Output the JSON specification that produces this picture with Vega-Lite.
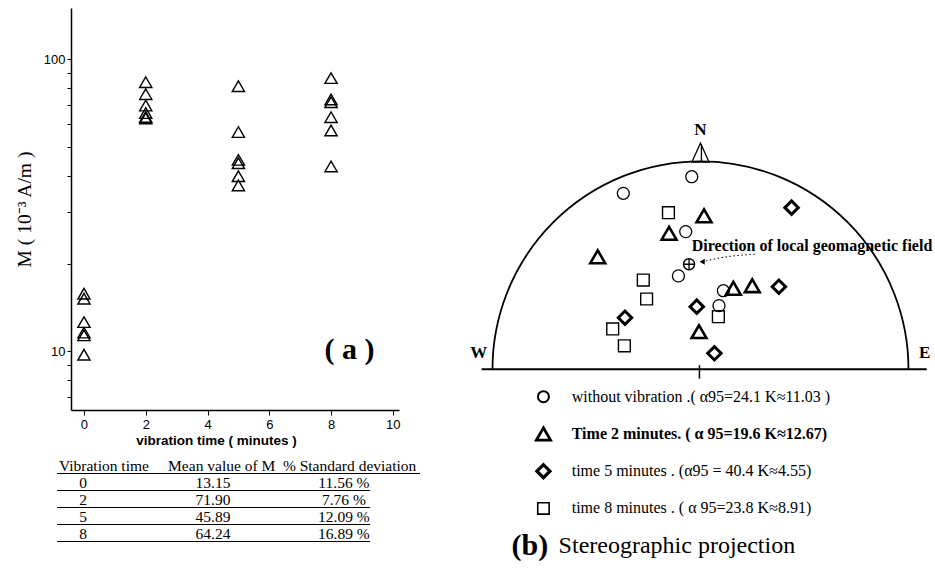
{
  "$schema": "https://vega.github.io/schema/vega-lite/v6.json",
  "background": "white",
  "padding": {"left": 14, "top": 8, "right": 0, "bottom": 0},
  "bounds": "full",
  "spacing": 49,
  "config": {
    "view": {"stroke": null},
    "axis": {"domainColor": "black", "tickColor": "black", "labelColor": "black", "titleColor": "black", "grid": false, "labelFlush": false},
    "text": {"font": "Liberation Serif", "color": "black"}
  },
  "datasets": {
    "stereo": [
      {"group": "without", "u": -0.042, "v": 0.926},
      {"group": "without", "u": -0.371, "v": 0.846},
      {"group": "without", "u": -0.071, "v": 0.662},
      {"group": "without", "u": -0.106, "v": 0.449},
      {"group": "without", "u": 0.110, "v": 0.378},
      {"group": "without", "u": 0.089, "v": 0.306},
      {"group": "t2", "u": 0.017, "v": 0.738},
      {"group": "t2", "u": -0.151, "v": 0.654},
      {"group": "t2", "u": -0.494, "v": 0.541},
      {"group": "t2", "u": 0.158, "v": 0.389},
      {"group": "t2", "u": 0.249, "v": 0.402},
      {"group": "t2", "u": -0.007, "v": 0.181},
      {"group": "t5", "u": 0.438, "v": 0.777},
      {"group": "t5", "u": 0.377, "v": 0.397},
      {"group": "t5", "u": -0.018, "v": 0.301},
      {"group": "t5", "u": -0.363, "v": 0.248},
      {"group": "t5", "u": 0.067, "v": 0.077},
      {"group": "t8", "u": -0.154, "v": 0.753},
      {"group": "t8", "u": -0.275, "v": 0.429},
      {"group": "t8", "u": -0.259, "v": 0.338},
      {"group": "t8", "u": 0.086, "v": 0.253},
      {"group": "t8", "u": -0.422, "v": 0.194},
      {"group": "t8", "u": -0.366, "v": 0.113}
    ],
    "legend": [
      {"group": "without", "label": "without vibration .( α95=24.1  K≈11.03 )"},
      {"group": "t2", "label": "Time 2 minutes. ( α 95=19.6  K≈12.67)"},
      {"group": "t5", "label": "time 5 minutes . (α95 = 40.4  K≈4.55)"},
      {"group": "t8", "label": "time 8 minutes . ( α 95=23.8  K≈8.91)"}
    ]
  },
  "hconcat": [
    {
      "bounds": "flush",
      "spacing": 56,
      "vconcat": [
        {
          "width": 328,
          "height": 402,
          "layer": [
            {
              "data": {"values": [
                {"time": 0, "M": 15.76}, {"time": 0, "M": 15.15}, {"time": 0, "M": 12.6}, {"time": 0, "M": 11.6}, {"time": 0, "M": 11.35}, {"time": 0, "M": 9.74},
                {"time": 2, "M": 83.6}, {"time": 2, "M": 76.0}, {"time": 2, "M": 69.5}, {"time": 2, "M": 65.5}, {"time": 2, "M": 63.5}, {"time": 2, "M": 62.8},
                {"time": 5, "M": 81.0}, {"time": 5, "M": 56.4}, {"time": 5, "M": 45.3}, {"time": 5, "M": 44.1}, {"time": 5, "M": 39.8}, {"time": 5, "M": 37.0},
                {"time": 8, "M": 86.3}, {"time": 8, "M": 72.9}, {"time": 8, "M": 71.4}, {"time": 8, "M": 63.4}, {"time": 8, "M": 57.1}, {"time": 8, "M": 43.0}
              ]},
              "mark": {"type": "point", "shape": "triangle-up", "filled": false, "stroke": "black", "strokeWidth": 1.4, "size": 150, "opacity": 1},
              "encoding": {
                "x": {
                  "field": "time", "type": "quantitative",
                  "scale": {"domain": [-0.42, 10.2], "nice": false, "zero": false},
                  "axis": {
                    "values": [0, 1, 2, 3, 4, 5, 6, 7, 8, 9, 10],
                    "labelExpr": "datum.value % 2 == 0 ? datum.label : ''",
                    "title": "vibration time ( minutes )",
                    "tickSize": 5, "labelPadding": 3, "labelFontSize": 13, "labelFont": "Liberation Sans",
                    "titleFont": "Liberation Sans", "titleFontSize": 13.5, "titleFontWeight": "bold",
                    "titlePadding": 2, "titleX": 145, "titleAlign": "center", "domainWidth": 1.5
                  }
                },
                "y": {
                  "field": "M", "type": "quantitative",
                  "scale": {"type": "log", "domain": [6.3, 150], "nice": false},
                  "axis": {
                    "values": [7, 8, 9, 10, 20, 30, 40, 50, 60, 70, 80, 90, 100],
                    "labelExpr": "datum.value == 10 || datum.value == 100 ? datum.label : ''",
                    "title": "M ( 10⁻³ A/m )",
                    "tickSize": 4, "labelPadding": 2, "labelFontSize": 13, "labelFont": "Liberation Sans",
                    "titleFont": "Liberation Serif", "titleFontSize": 19.5, "titleFontWeight": "normal",
                    "titlePadding": 9, "domainWidth": 1.5
                  }
                }
              }
            },
            {
              "data": {"values": [{}]},
              "mark": {"type": "text", "text": "( a )", "fontSize": 30, "fontWeight": "bold", "baseline": "middle"},
              "encoding": {"x": {"datum": 8.6}, "y": {"datum": 10.1}}
            }
          ]
        },
        {
          "width": 328,
          "height": 68,
          "data": {"values": [
            {"time": "0", "mean": "13.15", "sd": "11.56 %"},
            {"time": "2", "mean": "71.90", "sd": "7.76 %"},
            {"time": "5", "mean": "45.89", "sd": "12.09 %"},
            {"time": "8", "mean": "64.24", "sd": "16.89 %"}
          ]},
          "encoding": {
            "y": {"field": "time", "type": "ordinal", "scale": {"type": "point", "domain": ["hdr", "0", "2", "5", "8"], "padding": 0}, "axis": null}
          },
          "layer": [
            {
              "mark": {"type": "rule", "stroke": "black", "strokeWidth": 1, "yOffset": 7.5},
              "encoding": {
                "x": {"datum": -4.27, "scale": {"domain": [0, 100]}, "axis": null},
                "x2": {"datum": 91.2}
              }
            },
            {
              "data": {"values": [{"time": "hdr"}]},
              "mark": {"type": "rule", "stroke": "black", "strokeWidth": 1, "yOffset": 7.5},
              "encoding": {
                "x": {"datum": -4.27, "scale": {"domain": [0, 100]}, "axis": null},
                "x2": {"datum": 106.4}
              }
            },
            {
              "data": {"values": [{"time": "hdr", "label": "Vibration  time"}]},
              "mark": {"type": "text", "align": "left", "baseline": "middle", "fontSize": 15.5},
              "encoding": {"x": {"datum": -3.66, "scale": {"domain": [0, 100]}, "axis": null}, "text": {"field": "label"}}
            },
            {
              "data": {"values": [{"time": "hdr", "label": "Mean value of M"}]},
              "mark": {"type": "text", "align": "left", "baseline": "middle", "fontSize": 15.5},
              "encoding": {"x": {"datum": 29.6, "scale": {"domain": [0, 100]}, "axis": null}, "text": {"field": "label"}}
            },
            {
              "data": {"values": [{"time": "hdr", "label": "% Standard  deviation"}]},
              "mark": {"type": "text", "align": "left", "baseline": "middle", "fontSize": 15.5},
              "encoding": {"x": {"datum": 64.6, "scale": {"domain": [0, 100]}, "axis": null}, "text": {"field": "label"}}
            },
            {
              "mark": {"type": "text", "align": "center", "baseline": "middle", "fontSize": 15.5},
              "encoding": {"x": {"datum": 3.66, "scale": {"domain": [0, 100]}, "axis": null}, "text": {"field": "time"}}
            },
            {
              "mark": {"type": "text", "align": "center", "baseline": "middle", "fontSize": 15.5},
              "encoding": {"x": {"datum": 43.3, "scale": {"domain": [0, 100]}, "axis": null}, "text": {"field": "mean"}}
            },
            {
              "mark": {"type": "text", "align": "center", "baseline": "middle", "fontSize": 15.5},
              "encoding": {"x": {"datum": 83.2, "scale": {"domain": [0, 100]}, "axis": null}, "text": {"field": "sd"}}
            }
          ]
        }
      ]
    },
    {
      "bounds": "flush",
      "spacing": 26.7,
      "vconcat": [
        {
          "width": 447.2,
          "height": 361.3,
          "layer": [
            {
              "data": {"values": [{"u": 0, "v": 0}]},
              "mark": {"type": "point", "shape": "circle", "size": 173056, "filled": false, "stroke": "black", "strokeWidth": 1.8, "opacity": 1, "clip": true},
              "encoding": {
                "x": {"field": "u", "type": "quantitative", "scale": {"domain": [-1.06, 1.09], "nice": false, "zero": false}, "axis": null},
                "y": {"field": "v", "type": "quantitative", "scale": {"domain": [0, 1.737], "nice": false, "zero": false}, "axis": null}
              }
            },
            {
              "data": {"values": [{}]},
              "mark": {"type": "rule", "stroke": "black", "strokeWidth": 2},
              "encoding": {"x": {"datum": -1.052}, "x2": {"datum": 1.0875}, "y": {"datum": 0}}
            },
            {
              "data": {"values": [{}]},
              "mark": {"type": "rule", "stroke": "black", "strokeWidth": 1.5},
              "encoding": {"x": {"datum": -0.005}, "y": {"datum": 0.02}, "y2": {"datum": -0.045}}
            },
            {
              "data": {"name": "stereo"},
              "transform": [{"filter": "datum.group == 'without'"}],
              "mark": {"type": "point", "shape": "circle", "size": 144, "strokeWidth": 1.3, "filled": false, "stroke": "black", "opacity": 1},
              "encoding": {"x": {"field": "u", "type": "quantitative"}, "y": {"field": "v", "type": "quantitative"}}
            },
            {
              "data": {"name": "stereo"},
              "transform": [{"filter": "datum.group == 't2'"}],
              "mark": {"type": "point", "shape": "triangle-up", "size": 220, "strokeWidth": 2.6, "filled": false, "stroke": "black", "opacity": 1},
              "encoding": {"x": {"field": "u", "type": "quantitative"}, "y": {"field": "v", "type": "quantitative"}}
            },
            {
              "data": {"name": "stereo"},
              "transform": [{"filter": "datum.group == 't5'"}],
              "mark": {"type": "point", "shape": "diamond", "size": 180, "strokeWidth": 3, "filled": false, "stroke": "black", "opacity": 1},
              "encoding": {"x": {"field": "u", "type": "quantitative"}, "y": {"field": "v", "type": "quantitative"}}
            },
            {
              "data": {"name": "stereo"},
              "transform": [{"filter": "datum.group == 't8'"}],
              "mark": {"type": "point", "shape": "square", "size": 140, "strokeWidth": 1.4, "filled": false, "stroke": "black", "opacity": 1},
              "encoding": {"x": {"field": "u", "type": "quantitative"}, "y": {"field": "v", "type": "quantitative"}}
            },
            {
              "data": {"values": [{}]},
              "mark": {"type": "point", "shape": "M0,-1L-0.9,1L0.9,1ZM0.1,-0.9L0.1,1", "size": 361, "filled": false, "stroke": "black", "strokeWidth": 1.3, "opacity": 1},
              "encoding": {"x": {"datum": 0}, "y": {"datum": 1.042}}
            },
            {
              "data": {"values": [{}]},
              "mark": {"type": "point", "shape": "circle", "size": 121, "filled": false, "stroke": "black", "strokeWidth": 1.4, "opacity": 1},
              "encoding": {"x": {"datum": -0.055}, "y": {"datum": 0.505}}
            },
            {
              "data": {"values": [{}]},
              "mark": {"type": "point", "shape": "M-1,0L1,0M0,-1L0,1", "size": 121, "filled": false, "stroke": "black", "strokeWidth": 1.3, "opacity": 1},
              "encoding": {"x": {"datum": -0.055}, "y": {"datum": 0.505}}
            },
            {
              "data": {"values": [{"u": 0.261, "v": 0.553, "o": 1}, {"u": 0.12, "v": 0.54, "o": 2}, {"u": 0.01, "v": 0.517, "o": 3}]},
              "mark": {"type": "line", "stroke": "black", "strokeWidth": 1, "strokeDash": [1.5, 2.5], "interpolate": "monotone"},
              "encoding": {"x": {"field": "u", "type": "quantitative"}, "y": {"field": "v", "type": "quantitative"}, "order": {"field": "o"}}
            },
            {
              "data": {"values": [{}]},
              "mark": {"type": "point", "shape": "triangle-left", "size": 36, "filled": true, "fill": "black", "opacity": 1},
              "encoding": {"x": {"datum": 0.008}, "y": {"datum": 0.517}}
            },
            {
              "data": {"values": [{}]},
              "mark": {"type": "text", "text": "Direction of local geomagnetic field", "align": "left", "baseline": "middle", "fontSize": 16, "fontWeight": "bold"},
              "encoding": {"x": {"datum": -0.042}, "y": {"datum": 0.593}}
            },
            {
              "data": {"values": [{}]},
              "mark": {"type": "text", "text": "N", "align": "center", "baseline": "middle", "fontSize": 17, "fontWeight": "bold"},
              "encoding": {"x": {"datum": 0}, "y": {"datum": 1.15}}
            },
            {
              "data": {"values": [{}]},
              "mark": {"type": "text", "text": "W", "align": "center", "baseline": "middle", "fontSize": 17, "fontWeight": "bold"},
              "encoding": {"x": {"datum": -1.066}, "y": {"datum": 0.078}}
            },
            {
              "data": {"values": [{}]},
              "mark": {"type": "text", "text": "E", "align": "center", "baseline": "middle", "fontSize": 17, "fontWeight": "bold"},
              "encoding": {"x": {"datum": 1.078}, "y": {"datum": 0.078}}
            }
          ]
        },
        {
          "width": 447.2,
          "height": 149,
          "data": {"name": "legend"},
          "encoding": {
            "x": {"datum": -0.755, "scale": {"domain": [-1.06, 1.09], "nice": false, "zero": false}, "axis": null},
            "y": {"field": "group", "type": "ordinal", "scale": {"type": "point", "domain": ["without", "t2", "t5", "t8", "b"], "padding": 0}, "axis": null}
          },
          "layer": [
            {
              "transform": [{"filter": "datum.group == 'without'"}],
              "mark": {"type": "point", "shape": "circle", "size": 121, "strokeWidth": 2, "filled": false, "stroke": "black", "opacity": 1}
            },
            {
              "transform": [{"filter": "datum.group == 't2'"}],
              "mark": {"type": "point", "shape": "triangle-up", "size": 200, "strokeWidth": 2.8, "filled": false, "stroke": "black", "opacity": 1}
            },
            {
              "transform": [{"filter": "datum.group == 't5'"}],
              "mark": {"type": "point", "shape": "diamond", "size": 170, "strokeWidth": 3.2, "filled": false, "stroke": "black", "opacity": 1}
            },
            {
              "transform": [{"filter": "datum.group == 't8'"}],
              "mark": {"type": "point", "shape": "square", "size": 130, "strokeWidth": 1.6, "filled": false, "stroke": "black", "opacity": 1}
            },
            {
              "transform": [{"filter": "datum.group != 't2'"}],
              "mark": {"type": "text", "align": "left", "baseline": "middle", "fontSize": 16},
              "encoding": {"x": {"datum": -0.619}, "text": {"field": "label"}}
            },
            {
              "transform": [{"filter": "datum.group == 't2'"}],
              "mark": {"type": "text", "align": "left", "baseline": "middle", "fontSize": 16, "fontWeight": "bold"},
              "encoding": {"x": {"datum": -0.619}, "text": {"field": "label"}}
            },
            {
              "data": {"values": [{"group": "b", "label": "(b)"}]},
              "mark": {"type": "text", "align": "left", "baseline": "middle", "fontSize": 30, "fontWeight": "bold"},
              "encoding": {"x": {"datum": -0.908}, "text": {"field": "label"}}
            },
            {
              "data": {"values": [{"group": "b", "label": "Stereographic projection"}]},
              "mark": {"type": "text", "align": "left", "baseline": "middle", "fontSize": 24},
              "encoding": {"x": {"datum": -0.682}, "text": {"field": "label"}}
            }
          ]
        }
      ]
    }
  ]
}
